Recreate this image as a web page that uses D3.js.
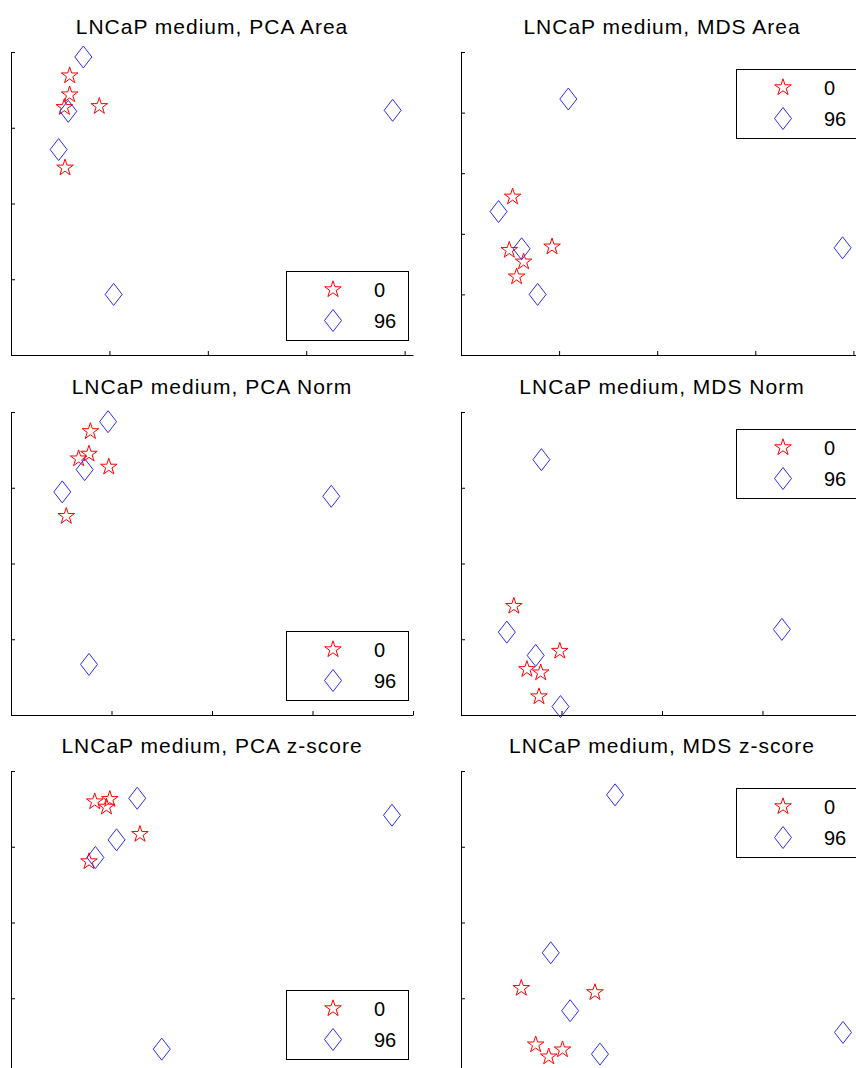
<!DOCTYPE html>
<html>
<head>
<meta charset="utf-8">
<script src="https://cdn.jsdelivr.net/npm/d3@7"></script>
<style>
  html, body { margin: 0; padding: 0; background: #fff; }
  svg { display: block; }
  .title { font-family: "Liberation Sans", Arial, Helvetica, sans-serif; font-size: 21px; fill: #000; letter-spacing: 1px; }
  .legtext { font-family: "Liberation Sans", Arial, Helvetica, sans-serif; font-size: 20px; fill: #000; }
</style>
</head>
<body>
<svg id="chart" width="856" height="1068"></svg>
<script>
// ---------------- data (axis units: tick = 1) ----------------
const titles = [
  "LNCaP medium, PCA Area", "LNCaP medium, MDS Area",
  "LNCaP medium, PCA Norm", "LNCaP medium, MDS Norm",
  "LNCaP medium, PCA z-score", "LNCaP medium, MDS z-score"
];
const legendLabels = ["0", "96"];

// series "0" (red stars) and "96" (blue diamonds), [x, y]
const pcaArea0 = [[0.596, 3.688], [0.596, 3.437], [0.542, 3.270], [0.897, 3.283], [0.549, 2.471]];
const pcaArea96 = [[0.735, 3.934], [0.582, 3.217], [0.484, 2.712], [1.043, 0.800], [3.878, 3.230]];

const mdsArea0 = [[0.526, 2.610], [0.492, 1.730], [0.638, 1.539], [0.567, 1.292], [0.928, 1.786]];
const mdsArea96 = [[1.094, 4.224], [0.383, 2.367], [0.618, 1.753], [0.781, 1.000], [3.890, 1.769]];

const pcaNorm0 = [[0.790, 3.744], [0.673, 3.384], [0.776, 3.446], [0.973, 3.275], [0.550, 2.624]];
const pcaNorm96 = [[0.966, 3.872], [0.733, 3.239], [0.510, 2.945], [0.776, 0.668], [3.187, 2.887]];

const mdsNorm0 = [[0.526, 1.437], [0.656, 0.603], [0.793, 0.559], [0.983, 0.844], [0.776, 0.243]];
const mdsNorm96 = [[0.800, 3.371], [0.456, 1.094], [0.743, 0.787], [0.990, 0.111], [3.193, 1.130]];

const pcaZ0 = [[0.833, 3.596], [0.983, 3.627], [0.950, 3.526], [1.283, 3.165], [0.776, 2.805]];
const pcaZ96 = [[1.256, 3.640], [1.050, 3.091], [0.840, 2.858], [1.500, 0.328], [3.791, 3.416]];

const mdsZ0 = [[0.600, 1.133], [1.333, 1.077], [0.743, 0.387], [0.873, 0.228], [1.010, 0.321]];
const mdsZ96 = [[1.533, 3.685], [0.893, 1.600], [1.086, 0.835], [1.383, 0.263], [3.801, 0.549]];

// axis extents (in tick units) and tick values
const xMaxes = [4.085, 4.098, 4.0, 4.0, 4.0, 4.0];
const yMaxes = [4, 5, 4, 4, 4, 4];
const xTickVals = [0, 1, 2, 3, 4];

const series0 = [pcaArea0, mdsArea0, pcaNorm0, mdsNorm0, pcaZ0, mdsZ0];
const series96 = [pcaArea96, mdsArea96, pcaNorm96, mdsNorm96, pcaZ96, mdsZ96];

// ---------------- layout ----------------
const colLeft = [11, 461];
const rowTop = [52, 412, 771];
const W = 402, H = 303;

const svg = d3.select("#chart");

// custom symbol types for d3.symbol
const starType = {
  draw(ctx, size) {
    const R = 8.7, r = R * 0.382;
    for (let i = 0; i < 10; i++) {
      const a = -Math.PI / 2 + i * Math.PI / 5;
      const rad = i % 2 === 0 ? R : r;
      const x = rad * Math.cos(a), y = rad * Math.sin(a);
      if (i === 0) ctx.moveTo(x, y); else ctx.lineTo(x, y);
    }
    ctx.closePath();
  }
};
const diamondType = {
  draw(ctx, size) {
    const hw = 8.5, hh = 11;
    ctx.moveTo(0, -hh);
    ctx.lineTo(hw, 0);
    ctx.lineTo(0, hh);
    ctx.lineTo(-hw, 0);
    ctx.closePath();
  }
};
const starPath = d3.symbol().type(starType)();
const diamondPath = d3.symbol().type(diamondType)();

const RED = "#ff0000", BLUE = "#2b2bff";

titles.forEach((t, i) => {
  const col = i % 2, row = Math.floor(i / 2);
  const x0 = colLeft[col], y0 = rowTop[row];
  const g = svg.append("g").attr("transform", `translate(${x0},${y0})`);

  const x = d3.scaleLinear().domain([0, xMaxes[i]]).range([0, W]);
  const y = d3.scaleLinear().domain([0, yMaxes[i]]).range([H, 0]);

  // title
  g.append("text").attr("class", "title")
    .attr("x", W / 2).attr("y", -18)
    .attr("text-anchor", "middle").text(t);

  // axes (ticks inward, no labels)
  const yTickVals = d3.range(0, yMaxes[i] + 1);
  const yAxis = d3.axisLeft(y).tickValues(yTickVals).tickSizeInner(-4).tickSizeOuter(0).tickFormat("");
  const xAxis = d3.axisBottom(x).tickValues(xTickVals).tickSizeInner(-4).tickSizeOuter(0).tickFormat("");
  const gy = g.append("g").call(yAxis);
  const gx = g.append("g").attr("transform", `translate(0,${H})`).call(xAxis);
  [gx, gy].forEach(a => {
    a.selectAll("path,line").attr("stroke", "#000").attr("stroke-width", 1);
  });

  // markers
  g.append("g").selectAll("path").data(series0[i]).join("path")
    .attr("d", starPath)
    .attr("transform", d => `translate(${x(d[0])},${y(d[1])})`)
    .attr("fill", "none").attr("stroke", RED).attr("stroke-width", 1);
  g.append("g").selectAll("path").data(series96[i]).join("path")
    .attr("d", diamondPath)
    .attr("transform", d => `translate(${x(d[0])},${y(d[1])})`)
    .attr("fill", "none").attr("stroke", BLUE).attr("stroke-width", 1);

  // legend
  const bw = 122, bh = 69;
  const bx = W - 5 - bw;
  const by = col === 0 ? H - 15 - bh : 17;
  const lg = g.append("g").attr("transform", `translate(${bx},${by})`);
  lg.append("rect").attr("x", 0.5).attr("y", 0.5).attr("width", bw).attr("height", bh)
    .attr("fill", "#fff").attr("stroke", "#000").attr("stroke-width", 1);
  const rowsY = [18.5, 49.5];
  const paths = [starPath, diamondPath];
  const cols = [RED, BLUE];
  legendLabels.forEach((lab, k) => {
    lg.append("path").attr("d", paths[k])
      .attr("transform", `translate(47,${rowsY[k]})`)
      .attr("fill", "none").attr("stroke", cols[k]).attr("stroke-width", 1);
    lg.append("text").attr("class", "legtext")
      .attr("x", 88).attr("y", rowsY[k] + 7.5).text(lab);
  });
});
</script>
</body>
</html>
